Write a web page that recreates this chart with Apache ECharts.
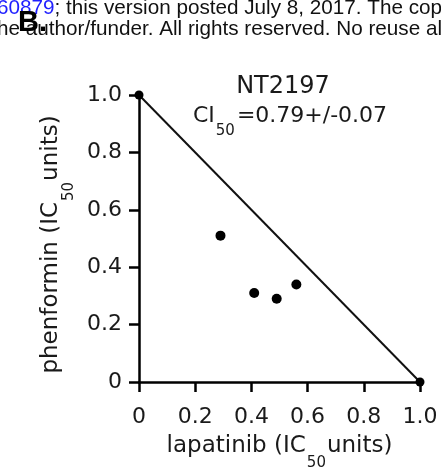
<!DOCTYPE html>
<html>
<head>
<meta charset="utf-8">
<script src="https://cdn.jsdelivr.net/npm/echarts@6/dist/echarts.min.js"></script>
<style>
  html, body { margin: 0; padding: 0; background: #fff; }
  #isobol { width: 441px; height: 468px; }
</style>
</head>
<body>
<div id="isobol"></div>
<script>
// combination points (IC50 units)
const lapatinib = [0.29, 0.41, 0.49, 0.56]
const phenformin = [0.51, 0.31, 0.29, 0.34]
// line of additivity
const additiveX = [0, 1]
const additiveY = [1, 0]
const tickLabels = ['0', '0.2', '0.4', '0.6', '0.8', '1.0']

const font = 'DejaVu Sans'
const subRich = {
  n: { fontFamily: font, fontSize: 23, color: '#1a1a1a' },
  s: { fontFamily: font, fontSize: 15, color: '#1a1a1a', padding: [35, 1, 0, 1] }
}

let chart = echarts.init(document.getElementById('isobol'))

let option = {
  animation: false,
  backgroundColor: '#fff',
  grid: {
    left: 139,
    right: 21,
    top: 95,
    bottom: 86,
    outerBoundsMode: 'none'
  },
  xAxis: {
    type: 'value',
    min: 0,
    max: 1,
    interval: 0.2,
    name: '{n|lapatinib (IC}{s|50}{n|units)}',
    nameLocation: 'middle',
    nameGap: 39,
    nameTextStyle: { rich: subRich },
    axisLine: { lineStyle: { color: '#000', width: 2.5 } },
    axisTick: { length: 10, lineStyle: { color: '#000', width: 2.5 } },
    splitLine: { show: false },
    axisLabel: {
      fontFamily: font,
      fontSize: 22,
      color: '#1a1a1a',
      margin: 24,
      formatter: function (v) { return tickLabels[Math.round(v * 5)] }
    }
  },
  yAxis: {
    type: 'value',
    min: 0,
    max: 1,
    interval: 0.2,
    name: '{n|phenformin (IC}{s|50}{n|units)}',
    nameLocation: 'middle',
    nameGap: 52,
    nameTextStyle: { rich: subRich, padding: [0, 12, 0, 0] },
    axisLine: { lineStyle: { color: '#000', width: 2.5 } },
    axisTick: { length: 10, lineStyle: { color: '#000', width: 2.5 } },
    splitLine: { show: false },
    axisLabel: {
      fontFamily: font,
      fontSize: 22,
      color: '#1a1a1a',
      margin: 17,
      formatter: function (v) { return tickLabels[Math.round(v * 5)] }
    }
  },
  series: [
    {
      type: 'line',
      data: additiveX.map(function (x, i) { return [x, additiveY[i]] }),
      symbol: 'circle',
      symbolSize: 9,
      showSymbol: true,
      clip: false,
      lineStyle: { color: '#111', width: 2 },
      itemStyle: { color: '#000', opacity: 1 },
      z: 3
    },
    {
      type: 'scatter',
      data: lapatinib.map(function (x, i) { return [x, phenformin[i]] }),
      symbol: 'circle',
      symbolSize: 10,
      itemStyle: { color: '#000', opacity: 1 }
    }
  ],
  graphic: [
    {
      type: 'text',
      x: 283,
      y: 87,
      style: {
        text: 'NT2197',
        fontFamily: font,
        fontSize: 24,
        fill: '#1a1a1a',
        align: 'center',
        verticalAlign: 'middle'
      }
    },
    {
      type: 'text',
      x: 290,
      y: 116,
      style: {
        text: '{n|CI}{s|50}{n|=0.79+/-0.07}',
        align: 'center',
        verticalAlign: 'middle',
        rich: {
          n: { fontFamily: font, fontSize: 22, fill: '#1a1a1a' },
          s: { fontFamily: font, fontSize: 15, fill: '#1a1a1a', padding: [30, 2, 0, 1] }
        }
      }
    },
    // cropped page header from the preprint
    {
      type: 'text',
      x: -3,
      y: 8,
      style: {
        text: '{b|60879}{k|; this version posted July 8, 2017. The copyright holder}',
        verticalAlign: 'middle',
        rich: {
          b: { fontFamily: 'Liberation Sans', fontSize: 20.7, fill: '#1f1fff' },
          k: { fontFamily: 'Liberation Sans', fontSize: 20.7, fill: '#111' }
        }
      }
    },
    {
      type: 'text',
      x: -3,
      y: 29,
      style: {
        text: 'he author/funder. All rights reserved. No reuse allowed',
        fontFamily: 'Liberation Sans',
        fontSize: 20.7,
        fill: '#111',
        verticalAlign: 'middle'
      }
    },
    {
      type: 'text',
      x: 18,
      y: 23,
      z: 10,
      style: {
        text: 'B.',
        fontFamily: 'Liberation Sans',
        fontWeight: 'bold',
        fontSize: 29,
        fill: '#000',
        verticalAlign: 'middle'
      }
    }
  ]
}

chart.setOption(option)
</script>
</body>
</html>
